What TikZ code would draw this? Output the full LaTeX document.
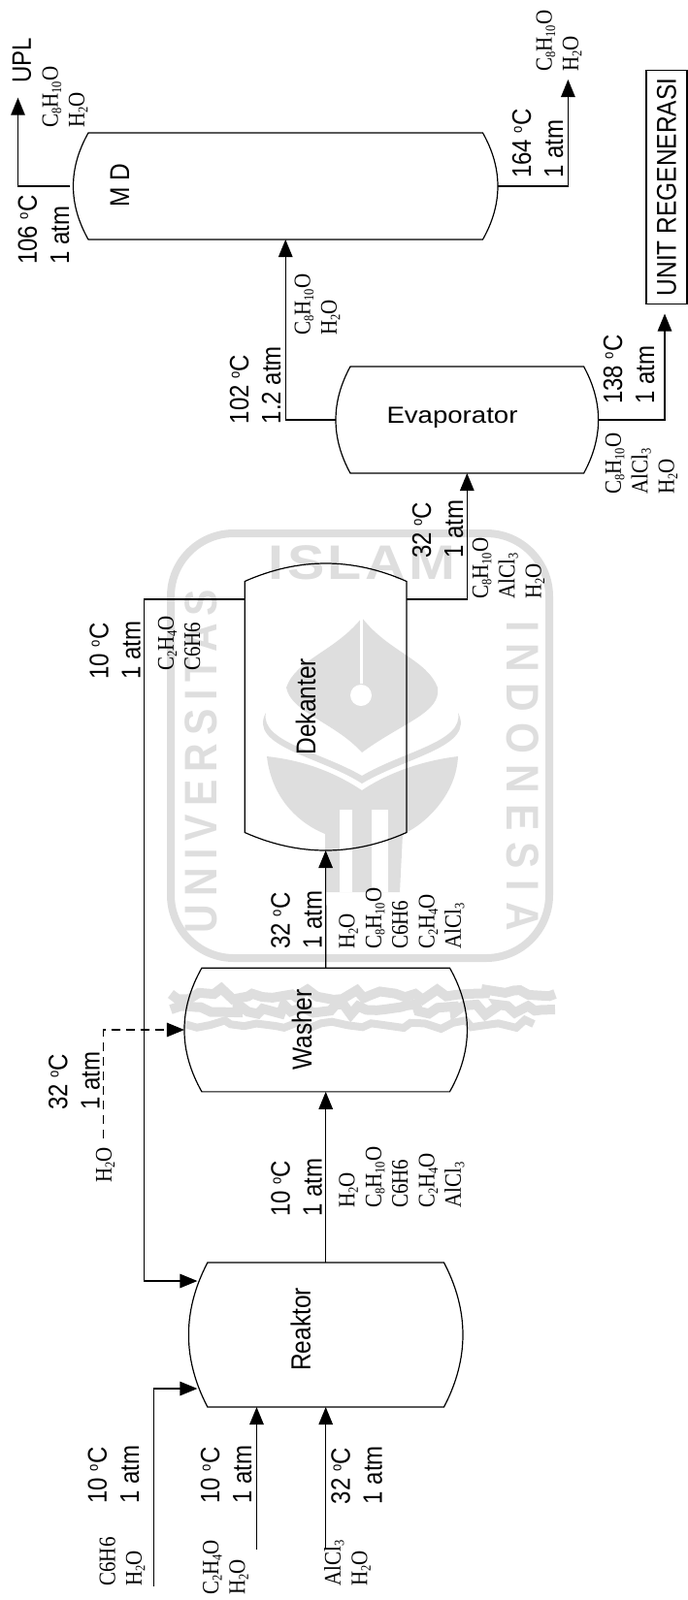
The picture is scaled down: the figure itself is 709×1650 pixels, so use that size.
\documentclass[tikz,border=0pt]{standalone}
\usepackage{fontspec}
\setmainfont{Liberation Serif}
\setsansfont{Liberation Sans}
\usetikzlibrary{arrows.meta,calc,decorations.pathmorphing}
\definecolor{markcolor}{gray}{0.87}

\newcommand{\sbs}[1]{\raisebox{-3pt}{\fontsize{12.5}{12.5}\selectfont #1}}
\newcommand{\cprod}{C\sbs{8}H\sbs{10}O}
\newcommand{\cwater}{H\sbs{2}O}
\newcommand{\cethene}{C\sbs{2}H\sbs{4}O}
\newcommand{\calcl}{AlCl\sbs{3}}
\newcommand{\dgc}{\raisebox{8pt}{\fontsize{13}{13}\selectfont o}C}

% drum with curved left and right ends
\newcommand{\drumsides}[2]{
\draw[vesselline] ($(#1.north west)+(#2,0)$) -- ($(#1.north east)+(-#2,0)$)
    .. controls ($(#1.north east)!.333!(#1.south east)+(#2/3,0)$) and ($(#1.north east)!.667!(#1.south east)+(#2/3,0)$) .. ($(#1.south east)+(-#2,0)$)
    -- ($(#1.south west)+(#2,0)$)
    .. controls ($(#1.north west)!.667!(#1.south west)+(-#2/3,0)$) and ($(#1.north west)!.333!(#1.south west)+(-#2/3,0)$) .. cycle;
}
% drum with curved top and bottom ends
\newcommand{\drumends}[2]{
\draw[vesselline] ($(#1.north west)+(0,#2)$)
    .. controls ($(#1.north west)!.333!(#1.north east)+(0,-#2/3)$) and ($(#1.north west)!.667!(#1.north east)+(0,-#2/3)$) .. ($(#1.north east)+(0,#2)$)
    -- ($(#1.south east)+(0,-#2)$)
    .. controls ($(#1.south west)!.667!(#1.south east)+(0,#2/3)$) and ($(#1.south west)!.333!(#1.south east)+(0,#2/3)$) .. ($(#1.south west)+(0,-#2)$)
    -- cycle;
}

\begin{document}
\begin{tikzpicture}[
    x=1pt, y=-1pt,
    vessel/.style={rectangle, inner sep=0pt, outer sep=0pt},
    vesselline/.style={line width=1.2pt, black},
    flow/.style={line width=1.2pt, -{Triangle[length=18pt,width=14.5pt]}},
    steam/.style={flow, dash pattern=on 9pt off 6pt},
    txt/.style={xscale=1.15, rotate=90, inner sep=0pt, anchor=west, align=left},
    cond/.style={txt, font=\sffamily\fontsize{24}{28.7}\selectfont},
    chem/.style={txt, font=\rmfamily\fontsize{21}{23.8}\selectfont},
    unitname/.style={xscale=1.15, rotate=90, inner sep=0pt, anchor=west, font=\sffamily\fontsize{24.5}{28}\selectfont},
    wmark/.style={inner sep=0pt, markcolor, font=\sffamily\bfseries}
]
\useasboundingbox (0,0) rectangle (709,1650);

% Watermark
\draw[markcolor, line width=8pt, rounded corners=65pt] (176,988) -- (176,550) -- (566,550) -- (566,988) -- cycle;
\node[wmark, xscale=1.15, rotate=90] (wmuni) at (207,785) {\fontsize{41}{41}\selectfont\addfontfeature{LetterSpace=20}UNIVERSITAS};
\node[wmark, xscale=1.15, rotate=-90] (wmindo) at (539,800) {\fontsize{41}{41}\selectfont\addfontfeature{LetterSpace=28}INDONESIA};
\node[wmark, xscale=1.15] (wmislam) at (373,580) {\fontsize{50}{50}\selectfont\addfontfeature{LetterSpace=6}ISLAM};
\fill[markcolor] (373,637) .. controls (400,672) and (440,680) .. (451,709) .. controls (455,735) and (415,745) .. (373,776) .. controls (345,745) and (300,735) .. (295,709) .. controls (305,680) and (345,672) .. cycle;
\fill[markcolor] (274,735) .. controls (268,765) and (330,775) .. (373,800) .. controls (415,775) and (478,765) .. (472,735) .. controls (490,770) and (420,780) .. (373,808) .. controls (330,780) and (255,770) .. cycle;
\fill[markcolor] (275,780) .. controls (320,785) and (350,800) .. (373,815) .. controls (395,800) and (430,785) .. (472,780) .. controls (470,825) and (430,855) .. (415,860) -- (412,920) -- (335,920) -- (335,860) .. controls (310,850) and (280,825) .. cycle;
\fill[white] (370.5,637) rectangle (373.5,705);
\fill[white] (372,717) circle (11);
\fill[white] (350,835) rectangle (363,920);
\fill[white] (383,835) rectangle (400,920);
\draw[markcolor, line width=10pt, decorate, decoration={random steps, segment length=11pt, amplitude=6pt}] (176,1025) -- (572,1025);
\draw[markcolor, line width=10pt, decorate, decoration={random steps, segment length=9pt, amplitude=6pt}] (176,1041) -- (572,1041);
\draw[markcolor, line width=8pt, decorate, decoration={random steps, segment length=13pt, amplitude=5pt}] (190,1056) -- (550,1056);

% Vessels
\node[vessel, minimum width=437.5pt, minimum height=110pt] (md) at (294.25,192) {};
\node[vessel, minimum width=270.6pt, minimum height=110pt] (evap) at (481.3,433) {};
\node[vessel, minimum width=166.7pt, minimum height=296pt] (dek) at (335.6,729) {};
\node[vessel, minimum width=291.5pt, minimum height=127.7pt] (washer) at (335.7,1062) {};
\node[vessel, minimum width=282.6pt, minimum height=149pt] (reaktor) at (335.7,1376.5) {};
\drumsides{md}{15.5}
\drumsides{evap}{15}
\drumends{dek}{18.5}
\drumsides{washer}{18}
\drumsides{reaktor}{19.5}

% Vessel names
\node[unitname] (mdname) at (123.4,213.6) {M D};
\node[inner sep=0pt, xscale=1.15, font=\sffamily\fontsize{24}{28}\selectfont] (evapname) at (466,431) {Evaporator};
\node[unitname] (dekname) at (315,778.6) {Dekanter};
\node[unitname] (washername) at (311,1104) {Washer};
\node[unitname] (reaktorname) at (309.7,1414) {Reaktor};
\node[unitname, anchor=center, draw, line width=1.2pt, minimum width=241pt, minimum height=36.5pt] (regen) at (687,193) {UNIT REGENERASI};

% Free ends
\coordinate (uplout) at (18.5,100.7);
\coordinate (botout) at (585.4,82);
\coordinate (recycle) at (148.3,1321);
\coordinate (feedbenz) at (158.2,1635.7);
\coordinate (feedeth) at (264.5,1598);
\coordinate (feedalcl) at (335.7,1597);
\coordinate (feedwater) at (106.7,1174);

% Streams
\draw[flow, shorten <=4pt] (md.west) -| (uplout);
\draw[flow] (md.east) -| (botout);
\draw[flow] (evap.west) -| (md.south);
\draw[flow, shorten >=9.4pt] (evap.east) -| ([xshift=-2pt]regen.west);
\draw[flow] ([yshift=111pt]dek.east) -| (evap.south);
\draw[flow] ([yshift=111pt]dek.west) -| (recycle) -- ([xshift=9pt,yshift=55.5pt]reaktor.west);
\draw[flow] (washer.north) -- (dek.south);
\draw[flow] (reaktor.north) -- (washer.south);
\draw[flow] (feedbenz) |- ([xshift=9pt,yshift=-55.5pt]reaktor.west);
\draw[flow] (feedeth) -- ([xshift=-71.2pt]reaktor.south);
\draw[flow] (feedalcl) -- (reaktor.south);
\draw[steam] (feedwater) |- (washer.west);

% Conditions
\node[cond] (c1) at (45,273) {106 \dgc\\1 atm};
\node[cond] (c2) at (554,184) {164 \dgc\\1 atm};
\node[cond] (c3) at (263,437.5) {102 \dgc\\1.2 atm};
\node[cond] (c4) at (648,417) {138 \dgc\\1 atm};
\node[cond] (c5) at (451,576) {32 \dgc\\1 atm};
\node[cond] (c6) at (118.7,700.7) {10 \dgc\\1 atm};
\node[cond] (c7) at (305.7,978.6) {32 \dgc\\1 atm};
\node[cond] (c8) at (76.5,1145) {32 \dgc\\1 atm};
\node[cond] (c9) at (305.7,1255) {10 \dgc\\1 atm};
\node[cond] (c10) at (117,1550.7) {10 \dgc\\1 atm};
\node[cond] (c11) at (233,1550.7) {10 \dgc\\1 atm};
\node[cond] (c12) at (367.7,1551.4) {32 \dgc\\1 atm};
\node[cond] (upl) at (22.6,85.7) {UPL};

% Compositions
\node[chem] (s1) at (67,132) {\cprod\\\cwater};
\node[chem] (s2) at (576,74) {\cprod\\\cwater};
\node[chem] (s3) at (327,346) {\cprod\\\cwater};
\node[chem] (s4) at (661,510) {\cprod\\\calcl\\\cwater};
\node[chem] (s5) at (524,618) {\cprod\\\calcl\\\cwater};
\node[chem] (s6) at (184.6,692) {\cethene\\C6H6};
\node[chem] (s7) at (414,979) {\cwater\\\cprod\\C6H6\\\cethene\\\calcl};
\node[chem] (s8) at (108.5,1220) {\cwater};
\node[chem] (s9) at (414,1246) {\cwater\\\cprod\\C6H6\\\cethene\\\calcl};
\node[chem] (s10) at (126,1635.7) {C6H6\\\cwater};
\node[chem] (s11) at (232.5,1645) {\cethene\\\cwater};
\node[chem] (s12) at (358,1635.7) {\calcl\\\cwater};

\end{tikzpicture}
\end{document}
